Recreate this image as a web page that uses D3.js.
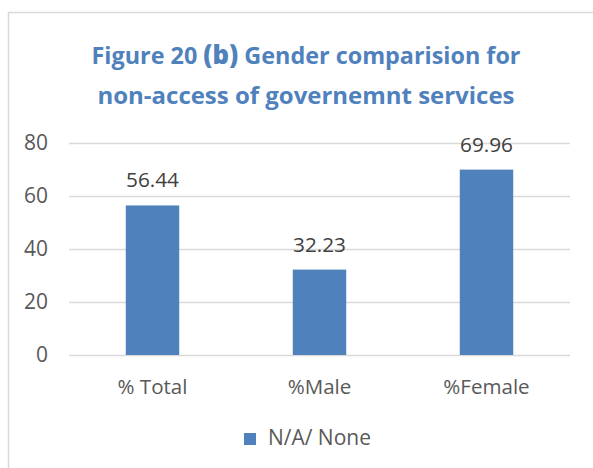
<!DOCTYPE html>
<html>
<head>
<meta charset="utf-8">
<script src="https://cdn.jsdelivr.net/npm/d3@7"></script>
<style>
  html, body { margin: 0; padding: 0; background: #fff; }
  svg { display: block; }
  text { font-family: "Open Sans", Lato, sans-serif; }
</style>
</head>
<body>
<svg id="chart" width="593" height="468"></svg>
<script>
// Chart data
const categories = ["% Total", "%Male", "%Female"];
const values = [56.44, 32.23, 69.96];
const seriesName = "N/A/ None";
const yTicks = [0, 20, 40, 60, 80];
const titleLines = [["Figure 20 ", "(b)", " Gender comparision for"], ["non-access of governemnt services"]];

const svg = d3.select("#chart");

const blue = "#4f81bd";
const grey = "#595959";
const gridCol = "#d9d9d9";

// Font size that makes `str` span `target` px in the given family/weight
function fitSize(str, target, family, weight) {
  const probe = svg.append("text")
    .attr("font-family", family).attr("font-weight", weight || 400)
    .attr("font-size", 20).text(str);
  const w = probe.node().getComputedTextLength();
  probe.remove();
  return 20 * target / w;
}

// Outer chart frame
svg.append("rect")
  .attr("x", 8.5).attr("y", 12.5)
  .attr("width", 600).attr("height", 500)
  .attr("fill", "#fff").attr("stroke", gridCol).attr("stroke-width", 1.5);

// Title
const titleWidths = [429, 417];
const titleBase = [64, 104];
titleLines.forEach((parts, i) => {
  const t = svg.append("text")
    .attr("x", 306).attr("y", titleBase[i])
    .attr("text-anchor", "middle")
    .attr("fill", blue)
    .attr("font-family", "Lato, sans-serif")
    .attr("font-weight", 700)
    .attr("font-size", 22);
  parts.forEach(p => {
    t.append("tspan")
      .attr("font-size", p === "(b)" ? "1.1em" : null)
      .attr("font-weight", p === "(b)" ? 900 : null)
      .text(p);
  });
  const w = t.node().getComputedTextLength();
  t.attr("font-size", 22 * titleWidths[i] / w);
});

const axisFont = fitSize("% Total", 70, "Open Sans");
const tickFont = fitSize("80", 24, "Open Sans");
const valueFont = fitSize("56.44", 53, "Open Sans");
const legendFont = fitSize(seriesName, 103, "Open Sans");

// Scales
const x = d3.scaleBand()
  .domain(categories)
  .range([69, 570])
  .paddingInner(0.68)
  .paddingOuter(0.34);

const y = d3.scaleLinear()
  .domain([0, 80])
  .range([355, 143]);

// Gridlines and y labels
const yAxis = d3.axisLeft(y)
  .tickValues(yTicks)
  .tickSize(-(570 - 69))
  .tickPadding(21);

const gy = svg.append("g")
  .attr("transform", "translate(69,0)")
  .call(yAxis);
gy.select(".domain").remove();
gy.selectAll(".tick line")
  .attr("stroke", gridCol).attr("stroke-width", 1.5);
gy.selectAll(".tick text")
  .attr("fill", grey)
  .attr("font-size", tickFont)
  .attr("font-family", "Open Sans, sans-serif");

// Bars
svg.append("g").selectAll("rect")
  .data(values)
  .join("rect")
  .attr("x", (d, i) => x(categories[i]))
  .attr("y", d => y(d))
  .attr("width", x.bandwidth())
  .attr("height", d => y(0) - y(d))
  .attr("fill", blue);

// Value labels
svg.append("g").selectAll("text")
  .data(values)
  .join("text")
  .attr("x", (d, i) => x(categories[i]) + x.bandwidth() / 2)
  .attr("y", d => y(d) - 18)
  .attr("text-anchor", "middle")
  .attr("fill", "#404040")
  .attr("font-size", valueFont)
  .text(d => d.toFixed(2));

// Category axis
const xAxis = d3.axisBottom(x).tickSize(0).tickPadding(24);
const gx = svg.append("g")
  .attr("transform", "translate(0,355)")
  .call(xAxis);
gx.select(".domain").remove();
gx.selectAll(".tick text")
  .attr("fill", grey)
  .attr("font-size", axisFont)
  .attr("font-family", "Open Sans, sans-serif");

// Legend
const lg = svg.append("g").attr("transform", "translate(244,433)");
lg.append("rect")
  .attr("width", 12).attr("height", 12)
  .attr("fill", blue);
lg.append("text")
  .attr("x", 24).attr("y", 12)
  .attr("fill", grey)
  .attr("font-size", legendFont)
  .text(seriesName);
</script>
</body>
</html>
